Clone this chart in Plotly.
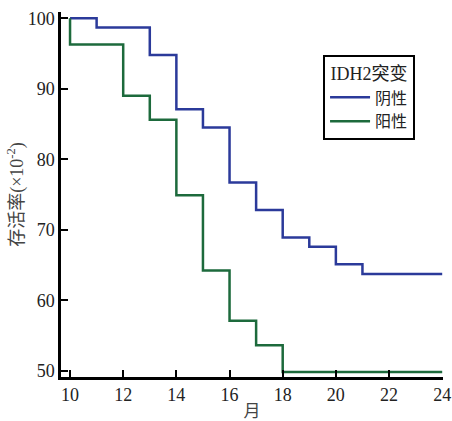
import plotly.graph_objects as go

months_neg = [10, 11, 13, 14, 15, 16, 17, 18, 19, 20, 21, 24]
surv_neg = [100, 98.7, 94.8, 87.1, 84.5, 76.7, 72.8, 68.9, 67.6, 65.1, 63.7, 63.7]

months_pos = [10, 10, 12, 13, 14, 15, 16, 17, 18, 24]
surv_pos = [100, 96.3, 89.0, 85.6, 74.9, 64.2, 57.1, 53.6, 49.8, 49.8]

x_ticks = [10, 12, 14, 16, 18, 20, 22, 24]
y_ticks = [50, 60, 70, 80, 90, 100]

FONT = "Liberation Serif, Times New Roman, Noto Sans CJK SC, serif"

fig = go.Figure()
fig.add_trace(go.Scatter(x=months_neg, y=surv_neg, mode="lines", line_shape="hv",
                         name="阴性", line=dict(color="#2b3a9a", width=2.5)))
fig.add_trace(go.Scatter(x=months_pos, y=surv_pos, mode="lines", line_shape="hv",
                         name="阳性", line=dict(color="#1d6a3c", width=2.5)))

fig.update_layout(
    width=452, height=421,
    margin=dict(l=61, r=9, t=12, b=44),
    paper_bgcolor="white", plot_bgcolor="white",
    font=dict(family=FONT, size=18, color="#222"),
    showlegend=True,
    legend=dict(
        title=dict(text="IDH2突变", font=dict(size=18, family=FONT), side="top center"),
        x=0.686, y=0.882, xanchor="left", yanchor="top",
        bordercolor="black", borderwidth=2, bgcolor="white",
        font=dict(size=16, family=FONT), itemwidth=40,
        tracegroupgap=0,
    ),
    xaxis=dict(
        range=[9.66, 24.03], tickvals=x_ticks, ticktext=[str(v) for v in x_ticks],
        showline=True, linecolor="black", linewidth=2.5,
        ticks="inside", ticklen=7, tickwidth=2, tickcolor="black",
        showgrid=False, zeroline=False, automargin=False,
        tickfont=dict(size=18, family=FONT, color="#222"),
        title=dict(text="月", font=dict(size=17, family=FONT, color="#444"), standoff=2),
    ),
    yaxis=dict(
        range=[49.1, 100.9], tickvals=y_ticks, ticktext=[str(v) for v in y_ticks],
        showline=True, linecolor="black", linewidth=2.5,
        ticks="inside", ticklen=7, tickwidth=2, tickcolor="black",
        showgrid=False, zeroline=False, automargin=False,
        tickfont=dict(size=18, family=FONT, color="#222"),
        title=dict(text="存活率(×10<sup>-2</sup>)", font=dict(size=18, family=FONT, color="#444"), standoff=0),
    ),
)

fig.write_html("out.html", config={"displayModeBar": False},
               post_script="document.body.style.margin='0';document.body.style.overflow='hidden';")
